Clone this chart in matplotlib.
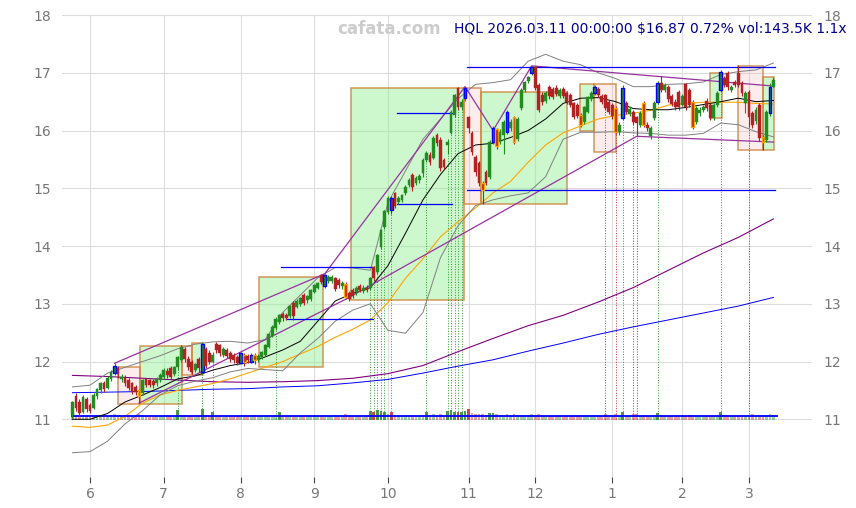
import numpy as np
import matplotlib.pyplot as plt
from matplotlib.patches import Rectangle

# daily candles, HQL, 2025-05-23 .. 2026-03-11 (trading-day index 0..200)
opens = [11.08, 11.40, 11.30, 11.12, 11.35, 11.24, 11.20, 11.40, 11.50, 11.62,
         11.55, 11.70, 11.80, 11.88, 11.70, 11.72, 11.68, 11.62, 11.56, 11.50,
         11.45, 11.70, 11.68, 11.66, 11.62, 11.68, 11.74, 11.84, 11.88, 11.78,
         11.90, 12.02, 12.22, 12.05, 12.00, 11.85, 12.05, 11.82, 12.22, 12.15,
         12.00, 12.30, 12.28, 12.12, 12.20, 12.15, 12.12, 12.08, 11.98, 12.12,
         12.10, 12.00, 12.12, 12.02, 12.08, 12.12, 12.26, 12.45, 12.58, 12.68,
         12.82, 12.80, 12.78, 13.02, 12.95, 13.00, 13.15, 13.06, 13.08, 13.20,
         13.28, 13.50, 13.30, 13.40, 13.40, 13.44, 13.42, 13.30, 13.35, 13.18,
         13.24, 13.20, 13.30, 13.22, 13.28, 13.27, 13.63, 13.55, 13.98, 14.33,
         14.59, 14.83, 14.91, 14.76, 14.80, 14.91, 15.06, 15.23, 15.10, 15.14,
         15.26, 15.49, 15.58, 15.52, 15.92, 15.84, 15.49, 15.75, 15.96, 16.27,
         16.74, 16.40, 16.56, 16.23, 15.96, 15.54, 15.44, 15.09, 15.28, 15.19,
         15.80, 16.02, 15.80, 15.92, 15.97, 16.05, 16.23, 15.85, 16.39, 16.70,
         16.85, 16.99, 17.10, 16.79, 16.62, 16.52, 16.75, 16.72, 16.74, 16.60,
         16.72, 16.65, 16.62, 16.47, 16.45, 16.27, 16.15, 16.32, 16.55, 16.65,
         16.72, 16.60, 16.61, 16.50, 16.45, 16.39, 15.97, 16.22, 16.48, 16.28,
         16.32, 16.23, 16.10, 16.48, 16.10, 15.90, 16.22, 16.50, 16.82, 16.70,
         16.76, 16.60, 16.50, 16.67, 16.45, 16.80, 16.70, 16.50, 16.15, 16.30,
         16.36, 16.52, 16.44, 16.22, 16.44, 16.70, 16.91, 17.00, 16.70, 16.84,
         17.00, 16.82, 16.48, 16.67, 16.30, 16.16, 16.44, 15.89, 15.84, 16.30,
         16.76]
highs = [11.32, 11.45, 11.35, 11.42, 11.38, 11.28, 11.45, 11.55, 11.65, 11.66,
         11.75, 11.85, 11.97, 11.92, 11.78, 11.76, 11.72, 11.65, 11.60, 11.52,
         11.70, 11.72, 11.70, 11.70, 11.73, 11.80, 11.88, 11.88, 11.92, 11.93,
         12.10, 12.28, 12.25, 12.10, 12.03, 11.98, 12.08, 12.33, 12.25, 12.20,
         12.16, 12.33, 12.30, 12.25, 12.24, 12.18, 12.15, 12.12, 12.16, 12.14,
         12.13, 12.14, 12.14, 12.13, 12.18, 12.30, 12.50, 12.63, 12.77, 12.82,
         12.85, 12.84, 12.98, 13.05, 13.08, 13.12, 13.18, 13.16, 13.26, 13.34,
         13.38, 13.52, 13.52, 13.50, 13.50, 13.47, 13.45, 13.40, 13.38, 13.22,
         13.28, 13.30, 13.34, 13.32, 13.32, 13.47, 13.66, 13.87, 14.30, 14.63,
         14.86, 14.86, 14.94, 14.87, 14.90, 15.05, 15.17, 15.26, 15.22, 15.25,
         15.52, 15.64, 15.62, 15.90, 15.95, 15.88, 15.52, 15.85, 16.35, 16.64,
         16.76, 16.54, 16.76, 16.26, 15.99, 15.57, 15.47, 15.12, 15.31, 15.83,
         16.08, 16.05, 16.02, 16.18, 16.35, 16.20, 16.26, 16.23, 16.73, 16.86,
         16.95, 17.12, 17.12, 16.82, 16.66, 16.68, 16.78, 16.75, 16.78, 16.73,
         16.76, 16.68, 16.65, 16.50, 16.48, 16.30, 16.43, 16.60, 16.68, 16.78,
         16.75, 16.63, 16.64, 16.53, 16.48, 16.42, 16.14, 16.78, 16.52, 16.42,
         16.35, 16.26, 16.34, 16.51, 16.14, 16.07, 16.52, 16.85, 16.95, 16.82,
         16.79, 16.63, 16.54, 16.70, 16.63, 16.83, 16.73, 16.53, 16.42, 16.40,
         16.44, 16.56, 16.48, 16.47, 16.68, 17.04, 16.94, 17.03, 16.78, 16.87,
         17.13, 16.85, 16.68, 16.70, 16.33, 16.40, 16.47, 15.92, 16.35, 16.82,
         16.93]
lows = [11.02, 11.15, 11.05, 11.10, 11.12, 11.10, 11.18, 11.35, 11.45, 11.48,
        11.52, 11.66, 11.76, 11.72, 11.64, 11.58, 11.50, 11.44, 11.42, 11.28,
        11.42, 11.56, 11.56, 11.55, 11.58, 11.65, 11.70, 11.72, 11.70, 11.75,
        11.86, 12.00, 12.00, 11.86, 11.78, 11.82, 11.82, 11.80, 11.88, 11.95,
        11.97, 12.15, 12.10, 12.08, 12.06, 12.00, 11.98, 11.94, 11.95, 11.92,
        11.98, 11.97, 11.96, 12.00, 12.05, 12.10, 12.24, 12.42, 12.55, 12.65,
        12.70, 12.72, 12.75, 12.72, 12.92, 12.97, 12.98, 13.02, 13.05, 13.18,
        13.25, 13.34, 13.28, 13.36, 13.36, 13.22, 13.28, 13.26, 13.08, 13.04,
        13.10, 13.16, 13.20, 13.18, 13.20, 13.24, 13.40, 13.52, 13.95, 14.30,
        14.56, 14.55, 14.66, 14.72, 14.76, 14.88, 15.02, 14.95, 15.06, 15.10,
        15.20, 15.46, 15.40, 15.50, 15.74, 15.30, 15.33, 15.60, 15.94, 16.24,
        16.36, 16.36, 16.52, 15.95, 15.58, 15.22, 15.04, 14.72, 15.06, 15.16,
        15.76, 15.68, 15.76, 15.60, 15.94, 16.00, 15.76, 15.82, 16.35, 16.66,
        16.82, 16.96, 16.70, 16.32, 16.45, 16.48, 16.55, 16.54, 16.60, 16.56,
        16.56, 16.46, 16.40, 16.20, 16.22, 16.06, 16.12, 16.30, 16.52, 16.62,
        16.58, 16.46, 16.35, 16.28, 16.20, 15.94, 15.93, 16.18, 16.28, 16.25,
        16.10, 15.90, 16.06, 16.06, 16.00, 15.85, 16.18, 16.46, 16.66, 16.66,
        16.50, 16.42, 16.36, 16.36, 16.42, 16.36, 16.40, 16.02, 16.12, 16.26,
        16.32, 16.34, 16.18, 16.18, 16.40, 16.66, 16.76, 16.70, 16.66, 16.76,
        16.76, 16.60, 16.30, 16.06, 16.05, 16.12, 15.82, 15.66, 15.80, 16.26,
        16.75]
closes = [11.30, 11.20, 11.10, 11.38, 11.18, 11.15, 11.42, 11.52, 11.62, 11.52,
          11.72, 11.82, 11.93, 11.78, 11.74, 11.62, 11.55, 11.48, 11.48, 11.40,
          11.68, 11.60, 11.60, 11.60, 11.70, 11.76, 11.86, 11.76, 11.73, 11.90,
          12.08, 12.25, 12.05, 11.90, 11.82, 11.95, 11.88, 12.30, 11.92, 12.00,
          12.12, 12.20, 12.14, 12.22, 12.10, 12.04, 12.02, 11.98, 12.14, 12.00,
          12.02, 12.12, 12.02, 12.10, 12.16, 12.28, 12.48, 12.60, 12.74, 12.80,
          12.76, 12.76, 12.96, 12.78, 13.05, 13.10, 13.02, 13.14, 13.24, 13.32,
          13.36, 13.38, 13.50, 13.46, 13.47, 13.25, 13.32, 13.36, 13.12, 13.08,
          13.14, 13.27, 13.24, 13.28, 13.24, 13.44, 13.45, 13.84, 14.28, 14.60,
          14.83, 14.62, 14.70, 14.84, 14.88, 15.02, 15.14, 15.02, 15.18, 15.22,
          15.49, 15.61, 15.45, 15.87, 15.78, 15.35, 15.37, 15.80, 16.32, 16.62,
          16.41, 16.50, 16.74, 16.04, 15.63, 15.28, 15.09, 14.97, 15.10, 15.80,
          16.04, 15.73, 15.98, 16.15, 16.32, 16.15, 15.80, 16.20, 16.70, 16.84,
          16.92, 17.10, 16.73, 16.36, 16.50, 16.65, 16.60, 16.58, 16.64, 16.70,
          16.60, 16.50, 16.45, 16.23, 16.25, 16.10, 16.40, 16.58, 16.65, 16.75,
          16.62, 16.50, 16.39, 16.32, 16.25, 15.97, 16.10, 16.74, 16.32, 16.38,
          16.15, 16.13, 16.30, 16.10, 16.05, 16.04, 16.48, 16.82, 16.70, 16.78,
          16.55, 16.46, 16.40, 16.41, 16.60, 16.40, 16.45, 16.06, 16.39, 16.36,
          16.40, 16.39, 16.22, 16.44, 16.65, 17.02, 16.79, 16.75, 16.75, 16.79,
          16.79, 16.65, 16.65, 16.23, 16.10, 16.36, 15.87, 15.80, 16.32, 16.75,
          16.87]
volumes = [150, 120, 110, 130, 100, 95, 120, 110, 130, 105,
           125, 140, 180, 115, 95, 100, 110, 105, 115, 160,
           140, 105, 95, 90, 110, 100, 120, 105, 100, 115,
           290, 150, 130, 110, 105, 95, 100, 310, 140, 120,
           240, 115, 110, 95, 105, 100, 95, 110, 150, 140,
           105, 145, 130, 100, 110, 120, 140, 150, 130, 230,
           105, 100, 125, 120, 110, 115, 110, 120, 125, 130,
           115, 125, 150, 110, 100, 130, 110, 105, 160, 115,
           110, 100, 105, 95, 100, 250, 230, 280, 260, 240,
           180, 220, 150, 120, 115, 130, 125, 140, 120, 115,
           150, 230, 135, 160, 130, 165, 120, 250, 270, 240,
           230, 220, 260, 320, 190, 170, 160, 180, 150, 200,
           210, 170, 130, 140, 180, 120, 160, 130, 150, 140,
           130, 170, 150, 160, 120, 110, 115, 105, 110, 100,
           110, 120, 115, 130, 125, 150, 120, 130, 120, 150,
           110, 115, 170, 130, 125, 175, 120, 230, 115, 105,
           160, 165, 120, 140, 110, 115, 130, 210, 130, 115,
           110, 120, 125, 115, 130, 120, 135, 150, 120, 110,
           105, 110, 115, 125, 120, 220, 135, 130, 120, 110,
           125, 135, 115, 120, 165, 140, 130, 150, 135, 160,
           143.5]

blue_days = [12, 37, 48, 51, 72, 91, 112, 120, 124, 131, 149, 157, 167, 185, 199]
orange_days = [19, 49, 52, 78, 117, 121, 126, 145, 155, 163, 177, 197]
green_marks = [30, 37, 40, 58, 85, 86, 87, 88, 89, 91, 101, 107, 108, 109, 110,
               111, 157, 167, 185]
red_marks = [152, 155, 160, 161, 193]

month_pos = [5, 26, 48, 69, 90, 113, 132, 154, 174, 193]
month_lbl = ['6', '7', '8', '9', '10', '11', '12', '1', '2', '3']

# moving averages / bands read at sample days
slow_idx = list(range(0, 201, 10))
ma_blue = [11.46, 11.47, 11.48, 11.50, 11.52, 11.53, 11.56, 11.58, 11.63, 11.69,
           11.80, 11.92, 12.03, 12.18, 12.32, 12.47, 12.60, 12.72, 12.84, 12.96, 13.11]
ma_purple = [11.76, 11.74, 11.71, 11.68, 11.65, 11.64, 11.65, 11.67, 11.71, 11.79,
             11.93, 12.17, 12.40, 12.62, 12.80, 13.03, 13.28, 13.58, 13.88, 14.15, 14.47]
fast_idx = list(range(0, 201, 5))
ma_orange = [10.88, 10.86, 10.90, 11.05, 11.28, 11.42, 11.50, 11.56, 11.62, 11.70,
             11.80, 11.90, 12.00, 12.13, 12.26, 12.42, 12.56, 12.72, 13.02, 13.44,
             13.78, 14.16, 14.42, 14.66, 14.92, 15.12, 15.45, 15.75, 15.96, 16.08,
             16.20, 16.26, 16.30, 16.35, 16.44, 16.47, 16.49, 16.49, 16.49, 16.47, 16.46]
ma_black = [11.00, 11.00, 11.10, 11.30, 11.42, 11.55, 11.70, 11.75, 11.85, 11.93,
            11.98, 12.08, 12.20, 12.35, 12.70, 13.05, 13.18, 13.28, 13.66, 14.22,
            14.80, 15.24, 15.60, 15.75, 15.78, 15.88, 16.00, 16.20, 16.47, 16.56,
            16.57, 16.50, 16.38, 16.36, 16.36, 16.40, 16.45, 16.50, 16.56, 16.50, 16.52]
band_up = [11.56, 11.59, 11.80, 11.90, 12.00, 12.10, 12.22, 12.30, 12.34, 12.35,
           12.32, 12.38, 12.85, 13.15, 13.45, 13.63, 13.62, 13.58, 14.75, 15.30,
           15.85, 16.20, 16.55, 16.80, 16.83, 16.88, 17.20, 17.32, 17.20, 17.14,
           17.00, 16.90, 16.76, 16.76, 16.80, 16.81, 16.84, 16.97, 17.02, 17.05, 17.17]
band_dn = [10.42, 10.44, 10.62, 10.92, 11.15, 11.42, 11.58, 11.66, 11.72, 11.82,
           11.88, 11.86, 11.84, 12.15, 12.40, 12.70, 12.89, 13.00, 12.54, 12.49,
           12.85, 13.80, 14.35, 14.70, 14.80, 14.87, 14.92, 15.20, 15.85, 15.97,
           15.97, 15.98, 15.96, 15.95, 15.92, 15.92, 15.95, 16.13, 16.10, 15.98, 15.89]

# boxes: start, end, low, high, kind
boxes = [(13.0, 19.3, 11.26, 11.90, 'dn'), (19.3, 31.2, 11.26, 12.27, 'up'),
         (31.2, 34.0, 11.76, 12.27, 'dn'), (34.0, 37.3, 11.76, 12.32, 'up'),
         (53.2, 71.5, 11.90, 13.46, 'up'), (79.5, 111.8, 13.06, 16.74, 'up'),
         (111.8, 116.6, 14.73, 16.74, 'dn'), (116.6, 141.1, 14.72, 16.67, 'up'),
         (144.8, 148.8, 16.00, 16.80, 'up'), (148.8, 155.1, 15.63, 16.80, 'dn'),
         (181.9, 185.3, 16.22, 17.00, 'up'), (189.9, 197.0, 15.67, 17.12, 'dn'),
         (197.0, 200.1, 15.67, 16.93, 'up')]

# trend lines (zigzag of highs and lows)
top_idx = [12, 72, 112, 120, 131, 200]
top_val = [11.97, 13.52, 16.76, 16.00, 17.12, 16.77]
bot_idx = [19, 78, 161, 200]
bot_val = [11.28, 13.08, 15.90, 15.80]

# horizontal levels: start, end, price
levels = [(59.5, 85.8, 13.63), (61.0, 85.8, 12.73), (92.5, 108.2, 16.30),
          (92.5, 108.2, 14.72), (112.5, 200.5, 17.10), (112.5, 200.5, 14.97)]

o = np.array(opens); h = np.array(highs); l = np.array(lows); c = np.array(closes)
x = np.arange(len(c))
up = c >= o

fig = plt.figure(figsize=(8.56, 5.08), dpi=100)
ax = fig.add_axes([0.0724, 0.061, 0.8762, 0.9094])
ax.set_axisbelow(True)
ax.grid(True, color='#dddddd', lw=0.8)

for x0, x1, y0, y1, kind in boxes:
    fc = '#90ee90' if kind == 'up' else '#f4a0a0'
    al = 0.45 if kind == 'up' else 0.2
    ax.add_patch(Rectangle((x0, y0), x1 - x0, y1 - y0, facecolor=fc, alpha=al,
                           edgecolor='none', zorder=1))
    ax.add_patch(Rectangle((x0, y0), x1 - x0, y1 - y0, facecolor='none',
                           edgecolor='peru', lw=1.1, alpha=0.85, zorder=1.2))

# volume strip along the bottom
vol = np.array(volumes)
vcol = np.where(up, '#2e8b2e', '#c03030')
valpha = np.where(vol >= 200, 0.85, 0.45)
for i in x:
    ax.bar(i, vol[i] * 0.0006, bottom=10.99, width=0.8, color=vcol[i],
           alpha=valpha[i], lw=0, zorder=2)
ax.plot([x[0], x[-1] + 1], [11.05, 11.05], color='blue', lw=1.3, zorder=2.2)

for i in green_marks:
    ax.plot([i, i], [11.0, h[i]], color='#2e9b2e', lw=0.7, ls=':', zorder=1.5)
for i in red_marks:
    ax.plot([i, i], [11.0, l[i]], color='#c03030', lw=0.7, ls=':', zorder=1.5)

ax.plot(slow_idx, ma_blue, color='blue', lw=0.7, zorder=2)
ax.plot(slow_idx, ma_purple, color='purple', lw=0.8, zorder=2)
ax.plot(fast_idx, ma_orange, color='orange', lw=0.8, zorder=2)
ax.plot(fast_idx, band_up, color='gray', lw=0.7, zorder=2)
ax.plot(fast_idx, band_dn, color='gray', lw=0.7, zorder=2)
ax.plot(fast_idx, ma_black, color='black', lw=0.7, zorder=2.5)

ax.plot(top_idx, top_val, color='#9932a0', lw=0.9, zorder=3)
ax.plot(bot_idx, bot_val, color='#9932a0', lw=0.9, zorder=3)
for x0, x1, y in levels:
    ax.plot([x0, x1], [y, y], color='blue', lw=0.9, zorder=3)

# candles
ccol = np.where(up, '#228b22', '#b22222')
ax.vlines(x, l, h, colors=ccol, lw=0.8, zorder=4)
ecol = list(ccol)
elw = [0.3] * len(x)
for i in blue_days:
    ecol[i] = 'blue'; elw[i] = 1.0
for i in orange_days:
    ecol[i] = 'orange'; elw[i] = 1.0
body = np.maximum(np.abs(c - o), 0.012)
ax.bar(x, body, bottom=np.minimum(o, c), width=0.8, color=ccol,
       edgecolor=ecol, linewidth=elw, zorder=4.5)

ax.set_xlim(-3, 211)
ax.set_ylim(10, 18)
ax.set_yticks(range(11, 19))
ax.set_xticks(month_pos)
ax.set_xticklabels(month_lbl)
for s in ax.spines.values():
    s.set_visible(False)
ax.tick_params(axis='y', length=0, labelsize=10, labelcolor='#777777',
               labelleft=True, labelright=True, pad=8)
ax.tick_params(axis='x', length=4, color='#444444', labelsize=10,
               labelcolor='#777777', pad=3)

fig.text(0.455, 0.943, 'cafata.com', fontsize=12, fontweight='bold',
         color='#cccccc', ha='center', va='center')
fig.text(0.989, 0.943, 'HQL 2026.03.11 00:00:00 $16.87 0.72% vol:143.5K 1.1x',
         fontsize=10, color='#00008b', ha='right', va='center')

fig.savefig('out.png', dpi=100)
